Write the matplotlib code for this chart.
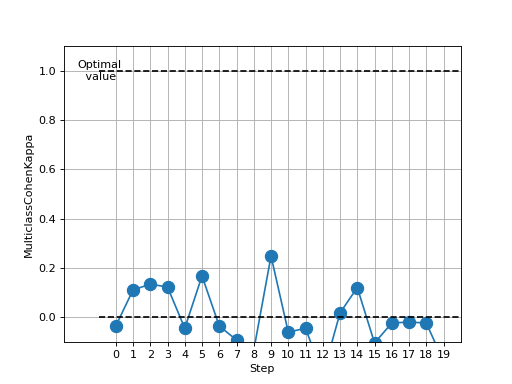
import numpy as np
import matplotlib
matplotlib.use("Agg")
import matplotlib.pyplot as plt

steps = list(range(20))
kappa = [-0.036, 0.11, 0.134, 0.122, -0.045, 0.167, -0.036, -0.093, -0.134, 0.248,
         -0.061, -0.045, -0.235, 0.017, 0.12, -0.105, -0.024, -0.02, -0.024, -0.18]
optimal = 1.0
baseline = 0.0

fig, ax = plt.subplots(figsize=(6.4, 4.8), dpi=80)
ax.plot(steps, kappa, "o-", color="#1f77b4", markersize=11)
ax.hlines([optimal, baseline], -1, 20, colors="k", linestyles="--")
ax.text(-0.95, optimal, "Optimal\n value", ha="center", va="center", multialignment="center")
ax.set_xticks(steps)
ax.set_xlim(-3, 20)
ax.set_ylim(-0.1, 1.1)
ax.grid(True)
ax.set_xlabel("Step")
ax.set_ylabel("MulticlassCohenKappa")
fig.savefig("out.png")
